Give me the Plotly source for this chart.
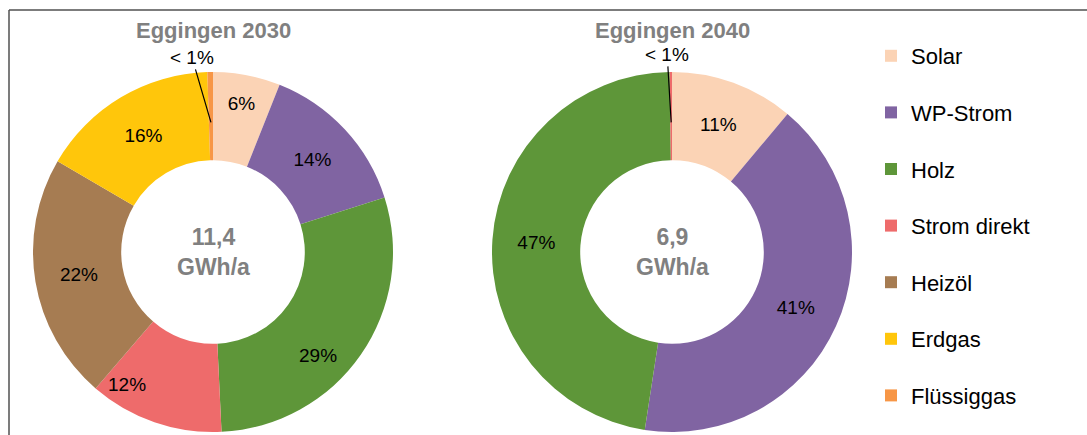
import math
import plotly.graph_objects as go

# ---------------- data ----------------
labels = ["Solar", "WP-Strom", "Holz", "Strom direkt", "Heizöl", "Erdgas", "Flüssiggas"]
colors = ["#FBD3B5", "#8064A2", "#5E9639", "#EE6B6B", "#A67C52", "#FFC60B", "#F79646"]
values_2030 = [6, 14, 29, 12, 22, 16, 0.5]
values_2040 = [11, 41, 47, 0.2, 0, 0, 0]
titles = ["Eggingen 2030", "Eggingen 2040"]
totals = ["11,4<br>GWh/a", "6,9<br>GWh/a"]
small_label = "< 1%"

# manually moved data labels (as in the original): label -> (angle deg, radius fraction)
moved_labels_2030 = {"Holz": (134.5, 0.82), "Strom direkt": (213.0, 0.88)}
moved_labels_2040 = {}

W, H = 1087, 435
FONT = "Arial, Liberation Sans, sans-serif"

domains = [
    dict(x=[33 / W, 393 / W], y=[1 - 432 / H, 1 - 72 / H]),
    dict(x=[492 / W, 852 / W], y=[1 - 432 / H, 1 - 72 / H]),
]
HOLE = 0.51
LABEL_SIZE = 19


def texts(vals, moved):
    return [f"{v:.0f}%" if (v >= 1 and lab not in moved) else ""
            for lab, v in zip(labels, vals)]


fig = go.Figure()
for vals, dom, moved in zip([values_2030, values_2040], domains,
                            [moved_labels_2030, moved_labels_2040]):
    fig.add_trace(go.Pie(
        labels=labels, values=vals, text=texts(vals, moved), textinfo="text",
        texttemplate="%{text}", textposition="inside",
        insidetextorientation="horizontal",
        sort=False, direction="clockwise", rotation=0, hole=HOLE,
        marker=dict(colors=colors, line=dict(width=0)),
        textfont=dict(family=FONT, size=LABEL_SIZE, color="#000000"),
        domain=dom, showlegend=False, hoverinfo="label+percent",
    ))

# legend entries (dummy traces so spacing can be controlled)
for lab, col in zip(labels, colors):
    fig.add_trace(go.Scatter(
        x=[None], y=[None], mode="markers", name=lab, legendgroup=lab,
        marker=dict(symbol="square", size=12, color=col),
        showlegend=True, hoverinfo="skip",
    ))

annotations = []
shapes = []
for vals, dom, title, total, ax_off, moved in zip(
        [values_2030, values_2040], domains, titles, totals,
        [(-19, -65), (-4, -68)], [moved_labels_2030, moved_labels_2040]):
    cx = (dom["x"][0] + dom["x"][1]) / 2
    cy = (dom["y"][0] + dom["y"][1]) / 2
    cxp, cyp = cx * W, (1 - cy) * H
    r_px = min((dom["x"][1] - dom["x"][0]) * W, (dom["y"][1] - dom["y"][0]) * H) / 2
    top_px = cyp - r_px
    annotations.append(dict(
        text=f"<b>{title}</b>", x=cx, y=1 - (top_px - 42) / H, xref="paper", yref="paper",
        showarrow=False, font=dict(family=FONT, size=22, color="#808080"),
        xanchor="center", yanchor="middle"))
    annotations.append(dict(
        text=f"<b>{total}</b>", x=cx, y=cy, xref="paper", yref="paper",
        showarrow=False, font=dict(family=FONT, size=23, color="#808080"),
        xanchor="center", yanchor="middle"))
    # moved labels
    for lab, v in zip(labels, vals):
        if lab in moved:
            ang, rf = moved[lab]
            a = math.radians(ang)
            px = cxp + rf * r_px * math.sin(a)
            py = cyp - rf * r_px * math.cos(a)
            annotations.append(dict(
                text=f"{v:.0f}%", x=px / W, y=1 - py / H, xref="paper", yref="paper",
                showarrow=False, xanchor="center", yanchor="middle",
                font=dict(family=FONT, size=LABEL_SIZE, color="#000000")))
    # leader for tiny slice
    tot = sum(vals)
    cum = 0
    for v in vals:
        if 0 < v < 1:
            mid = (cum + v / 2) / tot * 2 * math.pi
            rr = r_px * 0.72
            hx = cxp + rr * math.sin(mid)
            hy = cyp - rr * math.cos(mid)
            annotations.append(dict(
                text=small_label, x=hx / W, y=1 - hy / H, xref="paper", yref="paper",
                showarrow=True, arrowhead=0, arrowwidth=1.2, arrowcolor="#000000",
                ax=ax_off[0], ay=ax_off[1], standoff=0,
                font=dict(family=FONT, size=LABEL_SIZE, color="#000000")))
        cum += v

# frame (top and left)
shapes.append(dict(type="line", xref="paper", yref="paper", x0=9 / W, x1=1.0,
                   y0=1 - 10 / H, y1=1 - 10 / H, line=dict(color="#505050", width=1.5)))
shapes.append(dict(type="line", xref="paper", yref="paper", x0=9 / W, x1=9 / W,
                   y0=0, y1=1 - 10 / H, line=dict(color="#505050", width=1.5)))

fig.update_layout(
    width=W, height=H, margin=dict(l=0, r=0, t=0, b=0),
    paper_bgcolor="white", plot_bgcolor="white",
    xaxis=dict(visible=False), yaxis=dict(visible=False),
    legend=dict(x=871 / W, y=1 - 35 / H, xanchor="left", yanchor="top",
                font=dict(family=FONT, size=22, color="#000000"),
                tracegroupgap=25, itemwidth=30, bgcolor="rgba(0,0,0,0)"),
    annotations=annotations, shapes=shapes,
)

fig.write_html("out.html")
